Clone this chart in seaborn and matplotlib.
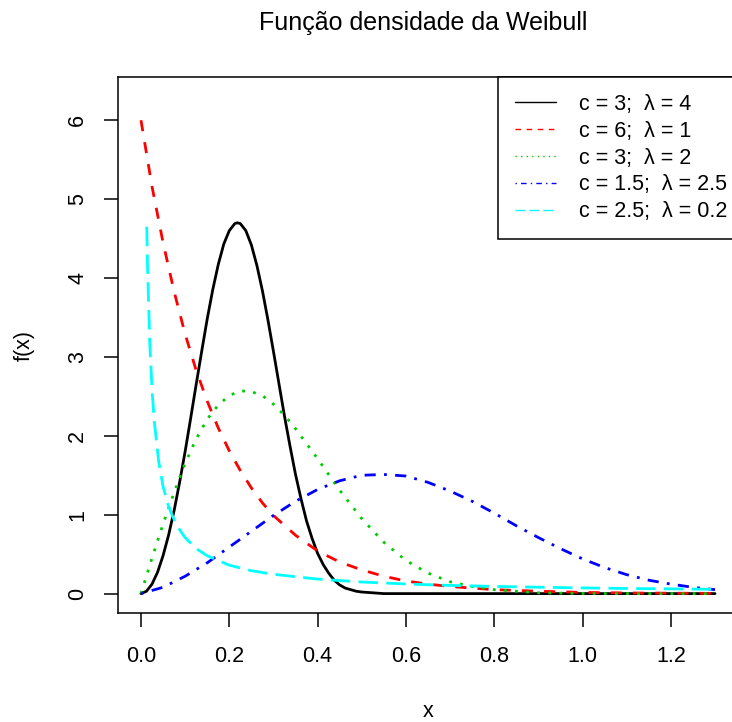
import matplotlib
matplotlib.use("Agg")
import matplotlib.pyplot as plt
import seaborn as sns

# Weibull density curves, sampled along x
x_black = [0.0, 0.0125, 0.025, 0.0375, 0.05, 0.0625, 0.075, 0.0875, 0.1, 0.1125,
           0.125, 0.1375, 0.15, 0.1625, 0.175, 0.1875, 0.2, 0.2125, 0.218, 0.225,
           0.2375, 0.25, 0.2625, 0.275, 0.2875, 0.3, 0.3125, 0.325, 0.3375, 0.35,
           0.3625, 0.375, 0.3875, 0.4, 0.4125, 0.425, 0.4375, 0.45, 0.4625, 0.475,
           0.4875, 0.5, 0.55, 0.6, 1.3]
y_black = [0.0, 0.03, 0.12, 0.27, 0.48, 0.74, 1.05, 1.41, 1.80, 2.22,
           2.65, 3.07, 3.48, 3.85, 4.17, 4.43, 4.60, 4.69, 4.70, 4.69,
           4.60, 4.42, 4.16, 3.84, 3.47, 3.07, 2.66, 2.25, 1.87, 1.51,
           1.20, 0.92, 0.70, 0.51, 0.37, 0.26, 0.17, 0.11, 0.07, 0.05,
           0.03, 0.02, 0.0, 0.0, 0.0]

x_red = [0.0, 0.025, 0.05, 0.075, 0.1, 0.125, 0.15, 0.175, 0.2, 0.225, 0.25,
         0.275, 0.3, 0.35, 0.4, 0.45, 0.5, 0.55, 0.6, 0.65, 0.7, 0.8, 0.9, 1.0,
         1.1, 1.2, 1.3]
y_red = [6.0, 5.16, 4.45, 3.83, 3.29, 2.83, 2.44, 2.10, 1.81, 1.56, 1.34,
         1.15, 0.99, 0.74, 0.54, 0.40, 0.30, 0.22, 0.16, 0.12, 0.09, 0.05, 0.03,
         0.015, 0.008, 0.005, 0.003]

x_green = [0.0, 0.025, 0.05, 0.075, 0.1, 0.125, 0.15, 0.175, 0.2, 0.225, 0.25,
           0.275, 0.3, 0.325, 0.35, 0.375, 0.4, 0.425, 0.45, 0.5, 0.55, 0.6,
           0.65, 0.7, 0.75, 0.8, 0.9, 1.0, 1.1, 1.2, 1.3]
y_green = [0.0, 0.45, 0.88, 1.28, 1.65, 1.96, 2.21, 2.39, 2.51, 2.57, 2.56,
           2.51, 2.40, 2.26, 2.09, 1.90, 1.71, 1.51, 1.31, 0.95, 0.65, 0.42,
           0.26, 0.15, 0.09, 0.05, 0.01, 0.002, 0.0, 0.0, 0.0]

x_blue = [0.0, 0.05, 0.1, 0.15, 0.2, 0.25, 0.3, 0.35, 0.4, 0.45, 0.5, 0.55,
          0.6, 0.65, 0.7, 0.75, 0.8, 0.85, 0.9, 0.95, 1.0, 1.05, 1.1, 1.15,
          1.2, 1.25, 1.3]
y_blue = [0.0, 0.08, 0.22, 0.39, 0.59, 0.79, 0.99, 1.17, 1.32, 1.43, 1.50, 1.51,
          1.49, 1.41, 1.30, 1.17, 1.02, 0.86, 0.71, 0.57, 0.44, 0.33, 0.24, 0.17,
          0.12, 0.08, 0.05]

x_cyan = [0.0131, 0.015, 0.02, 0.025, 0.03, 0.04, 0.05, 0.06, 0.07, 0.08, 0.09,
          0.1, 0.125, 0.15, 0.2, 0.25, 0.3, 0.4, 0.5, 0.6, 0.7, 0.8, 0.9, 1.0,
          1.1, 1.2, 1.3]
y_cyan = [4.65, 4.12, 3.17, 2.59, 2.19, 1.68, 1.36, 1.15, 1.00, 0.88, 0.79,
          0.71, 0.57, 0.48, 0.36, 0.29, 0.245, 0.184, 0.147, 0.122, 0.104, 0.091,
          0.081, 0.072, 0.065, 0.060, 0.055]

labels = ["c = 3;  λ = 4", "c = 6;  λ = 1", "c = 3;  λ = 2",
          "c = 1.5;  λ = 2.5", "c = 2.5;  λ = 0.2"]
colors = ["black", "#FF0000", "#00CD00", "#0000FF", "#00FFFF"]
dash_patterns = [None, (4, 4), (1, 3), (1, 3, 4, 3), (7, 3)]
x_ticks = [0.0, 0.2, 0.4, 0.6, 0.8, 1.0, 1.2]
y_ticks = [0, 1, 2, 3, 4, 5, 6]

sns.set_style("white")
plt.rcParams["font.family"] = ["Liberation Sans", "DejaVu Sans"]
plt.rcParams["text.color"] = "black"
plt.rcParams["axes.labelcolor"] = "black"
plt.rcParams["xtick.color"] = "black"
plt.rcParams["ytick.color"] = "black"

fig = plt.figure(figsize=(7.32, 7.22), dpi=100)
ax = fig.add_axes([0.1612, 0.1503, 0.8470, 0.7435])

series = [(x_black, y_black), (x_red, y_red), (x_green, y_green),
          (x_blue, y_blue), (x_cyan, y_cyan)]
for (xs, ys), lab, col, dp in zip(series, labels, colors, dash_patterns):
    sns.lineplot(x=xs, y=ys, ax=ax, color=col, linewidth=2.0, label=lab,
                 estimator=None, sort=False)
    line = ax.lines[-1]
    line.set_solid_capstyle("round")
    line.set_solid_joinstyle("round")
    line.set_dash_capstyle("butt")
    if dp is not None:
        line.set_dashes(dp)

ax.set_xlim(-0.052, 1.352)
ax.set_ylim(-0.252, 6.552)
ax.set_xticks(x_ticks)
ax.set_xticklabels([f"{v:.1f}" for v in x_ticks])
ax.set_yticks(y_ticks)
ax.set_yticklabels([str(v) for v in y_ticks])

for sp in ax.spines.values():
    sp.set_visible(True)
    sp.set_color("black")
    sp.set_linewidth(1.1)

ax.tick_params(axis="both", which="major", direction="out", length=10,
               width=1.1, color="black", labelsize=15.5, labelcolor="black")
ax.tick_params(axis="x", pad=13.5)
ax.tick_params(axis="y", pad=11.5)
ax.tick_params(top=False, right=False, bottom=True, left=True)
for t in ax.get_yticklabels():
    t.set_rotation(90)
    t.set_va("center")

ax.set_xlabel("x", fontsize=15.5, color="black")
ax.xaxis.label.set_va("baseline")
ax.xaxis.set_label_coords(0.5, -0.1927)
ax.set_ylabel("f(x)", fontsize=15.5, color="black")
ax.yaxis.label.set_va("center")
ax.yaxis.label.set_ha("center")
ax.yaxis.set_label_coords(-0.1516, 0.5)

fig.text(423 / 732, 1 - 30 / 722, "Função densidade da Weibull",
         ha="center", va="baseline", fontsize=18.0, color="black")

leg = ax.legend(loc="upper left", bbox_to_anchor=(380 / 620, 1.0),
                frameon=True, fancybox=False, framealpha=1.0,
                edgecolor="black", fontsize=15.5, borderaxespad=0.0,
                borderpad=0.8, handlelength=1.9, handletextpad=1.05,
                labelspacing=0.27)
leg.get_frame().set_linewidth(1.1)
for txt in leg.get_texts():
    txt.set_color("black")
for h in leg.get_lines():
    h.set_linewidth(1.0)

fig.savefig("out.png", dpi=100)
